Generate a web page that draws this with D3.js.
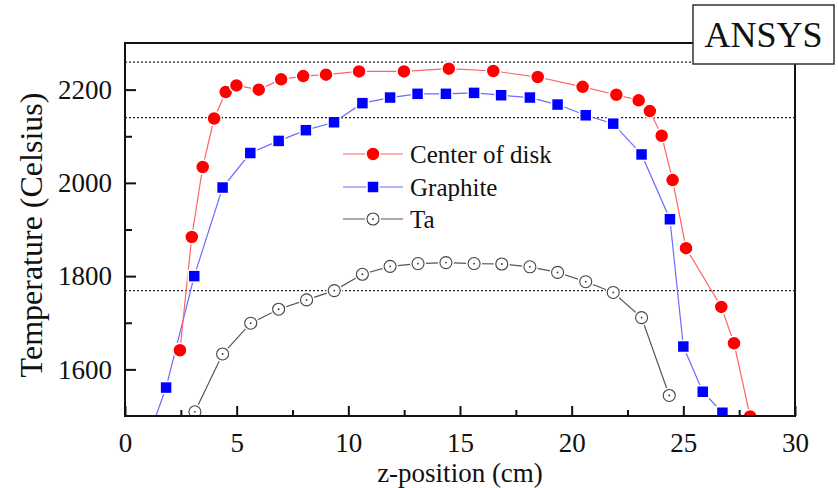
<!DOCTYPE html>
<html>
<head>
<meta charset="utf-8">
<script src="https://cdn.jsdelivr.net/npm/d3@7"></script>
<style>
  html, body { margin: 0; padding: 0; background: #fff; }
  svg { display: block; }
  text { font-family: "Liberation Serif", "Times New Roman", serif; fill: #111; }
</style>
</head>
<body>
<svg id="chart" width="838" height="488"></svg>
<script>
// ---- data ----
const centerX = [2.46, 2.99, 3.48, 3.99, 4.51, 4.99, 5.99, 6.99, 7.98, 9.0, 10.48, 12.49, 14.5, 16.49, 18.48, 20.49, 22.0, 23.0, 23.5, 24.03, 24.52, 25.12, 26.7, 27.27, 27.99];
const centerT = [1641, 1884, 2034, 2138, 2195, 2209, 2200, 2222, 2229, 2232, 2239, 2239, 2245, 2240, 2227, 2206, 2189, 2177, 2154, 2101, 2006, 1860, 1734, 1656, 1499];

const graphiteX = [0.6, 1.84, 3.1, 4.37, 5.61, 6.88, 8.1, 9.36, 10.63, 11.87, 13.1, 14.37, 15.63, 16.84, 18.13, 19.37, 20.63, 21.86, 23.13, 24.4, 25.0, 25.87, 26.75];
const graphiteT = [1395, 1561, 1800, 1990, 2064, 2090, 2113, 2130, 2171, 2183, 2191, 2191, 2193, 2188, 2183, 2168, 2145, 2127, 2061, 1922, 1649, 1552, 1507];

const taX = [3.13, 4.37, 5.63, 6.88, 8.13, 9.37, 10.63, 11.87, 13.12, 14.37, 15.63, 16.87, 18.13, 19.37, 20.63, 21.86, 23.13, 24.37];
const taT = [1509, 1633, 1699, 1729, 1749, 1769, 1804, 1821, 1827, 1829, 1827, 1826, 1820, 1808, 1788, 1765, 1711, 1544];

const refLines = [2259, 2140, 1769];
const xTicks = [0, 5, 10, 15, 20, 25, 30];
const xMinor = [2.5, 7.5, 12.5, 17.5, 22.5, 27.5];
const yTicks = [1600, 1800, 2000, 2200];
const yMinor = [1700, 1900, 2100];
const seriesNames = ["Center of disk", "Graphite", "Ta"];

// ---- layout ----
const SERIF = "'Liberation Serif', 'Times New Roman', serif";
const svg = d3.select("#chart");
const m = { left: 125, top: 43, right: 795, bottom: 416 };
const x = d3.scaleLinear().domain([0, 30]).range([m.left, m.right]);
const y = d3.scaleLinear().domain([1500, 2300]).range([m.bottom, m.top]);

svg.append("defs").append("clipPath").attr("id", "plotclip")
  .append("rect").attr("x", m.left).attr("y", m.top)
  .attr("width", m.right - m.left).attr("height", m.bottom - m.top);

// reference dotted lines
svg.append("g").selectAll("line").data(refLines).join("line")
  .attr("x1", m.left).attr("x2", m.right)
  .attr("y1", d => y(d)).attr("y2", d => y(d))
  .attr("stroke", "#222").attr("stroke-width", 1.2).attr("stroke-dasharray", "2,2");

const plot = svg.append("g").attr("clip-path", "url(#plotclip)");

function zip(xs, ys) { return xs.map((v, i) => [v, ys[i]]); }
const line = d3.line().x(d => x(d[0])).y(d => y(d[1]));

const cData = zip(centerX, centerT), gData = zip(graphiteX, graphiteT), tData = zip(taX, taT);

plot.append("path").datum(tData).attr("d", line).attr("fill", "none").attr("stroke", "#555").attr("stroke-width", 1.2);
plot.append("path").datum(gData).attr("d", line).attr("fill", "none").attr("stroke", "#6b6bff").attr("stroke-width", 1.2);
plot.append("path").datum(cData).attr("d", line).attr("fill", "none").attr("stroke", "#ff6464").attr("stroke-width", 1.2);

// markers
function drawTa(g, data) {
  g.selectAll(null).data(data).join("circle")
    .attr("cx", d => x(d[0])).attr("cy", d => y(d[1])).attr("r", 8).attr("fill", "#fff");
  g.selectAll(null).data(data).join("circle")
    .attr("cx", d => x(d[0])).attr("cy", d => y(d[1])).attr("r", 6)
    .attr("fill", "#fff").attr("stroke", "#444").attr("stroke-width", 1.1);
  g.selectAll(null).data(data).join("circle")
    .attr("cx", d => x(d[0])).attr("cy", d => y(d[1])).attr("r", 0.9).attr("fill", "#333");
}
function drawSq(g, data) {
  g.selectAll(null).data(data).join("rect")
    .attr("x", d => x(d[0]) - 6).attr("y", d => y(d[1]) - 6)
    .attr("width", 12).attr("height", 12)
    .attr("fill", "#0000ff").attr("stroke", "#fff").attr("stroke-width", 1.5);
}
function drawCirc(g, data) {
  g.selectAll(null).data(data).join("circle")
    .attr("cx", d => x(d[0])).attr("cy", d => y(d[1])).attr("r", 7)
    .attr("fill", "#ff0000").attr("stroke", "#fff").attr("stroke-width", 1.5);
}
drawTa(plot.append("g"), tData);
drawSq(plot.append("g"), gData.slice(1));
drawCirc(plot.append("g"), cData);

// frame
svg.append("rect").attr("x", m.left).attr("y", m.top)
  .attr("width", m.right - m.left).attr("height", m.bottom - m.top)
  .attr("fill", "none").attr("stroke", "#111").attr("stroke-width", 2);

// axes
function styleAxis(g) {
  g.attr("font-family", null).attr("font-size", null);
  g.select(".domain").remove();
  g.selectAll(".tick line").attr("stroke", "#111").attr("stroke-width", 2);
  g.selectAll(".tick text").attr("fill", "#111")
    .style("font-family", SERIF).style("font-size", "27px");
}
svg.append("g").attr("transform", `translate(0,${m.bottom})`)
  .call(d3.axisBottom(x).tickValues(xTicks).tickSizeInner(-10).tickSizeOuter(0).tickPadding(17).tickFormat(d3.format("d")))
  .call(styleAxis);
svg.append("g").attr("transform", `translate(0,${m.bottom})`)
  .call(d3.axisBottom(x).tickValues(xMinor).tickSizeInner(-6).tickSizeOuter(0).tickFormat(""))
  .call(styleAxis);
svg.append("g").attr("transform", `translate(${m.left},0)`)
  .call(d3.axisLeft(y).tickValues(yTicks).tickSizeInner(-11).tickSizeOuter(0).tickPadding(13).tickFormat(d3.format("d")))
  .call(styleAxis);
svg.append("g").attr("transform", `translate(${m.left},0)`)
  .call(d3.axisLeft(y).tickValues(yMinor).tickSizeInner(-7).tickSizeOuter(0).tickFormat(""))
  .call(styleAxis);

// axis titles
svg.append("text").attr("x", (m.left + m.right) / 2).attr("y", 482)
  .attr("text-anchor", "middle").style("font-size", "27px").text("z-position (cm)");
svg.append("text").attr("transform", "translate(42,235) rotate(-90)")
  .attr("text-anchor", "middle").style("font-size", "32px").text("Temperature (Celsius)");

// legend
const legY = [154, 187, 219];
const leg = svg.append("g");
const legColors = ["#ff6464", "#6b6bff", "#555"];
legY.forEach((ly, i) => {
  leg.append("line").attr("x1", 343).attr("x2", 403).attr("y1", ly).attr("y2", ly)
    .attr("stroke", legColors[i]).attr("stroke-width", 1.2);
  leg.append("text").attr("x", 410).attr("y", ly + 9).style("font-size", "25px").text(seriesNames[i]);
});
const legPt = lx => [[x.invert(373), y.invert(lx)]];
drawCirc(leg.append("g"), legPt(legY[0]));
drawSq(leg.append("g"), legPt(legY[1]));
drawTa(leg.append("g"), legPt(legY[2]));

// ANSYS box
svg.append("rect").attr("x", 693).attr("y", 5).attr("width", 141).attr("height", 59)
  .attr("fill", "#fff").attr("stroke", "#333").attr("stroke-width", 1.5);
svg.append("text").attr("x", 763.5).attr("y", 47).attr("text-anchor", "middle")
  .style("font-size", "36px").text("ANSYS");
</script>
</body>
</html>
